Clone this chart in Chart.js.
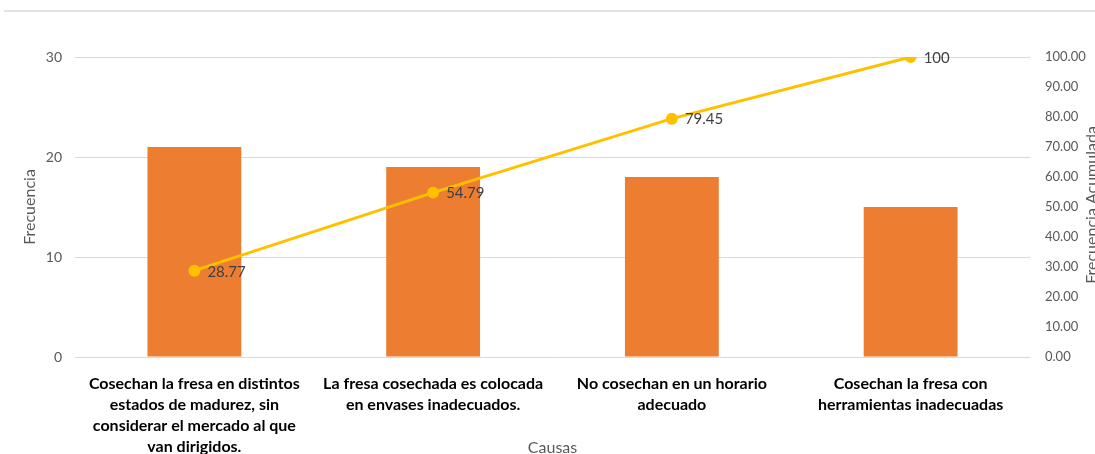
<!DOCTYPE html>
<html>
<head>
<meta charset="utf-8">
<script src="https://cdn.jsdelivr.net/npm/chart.js@4"></script>
<style>
html,body{margin:0;padding:0;background:#fff;}
#wrap{position:relative;width:1095px;height:454px;}
</style>
</head>
<body>
<div id="wrap"><canvas id="c" width="1095" height="454"></canvas></div>
<script>
const categories = [
  ["Cosechan la fresa en distintos","estados de madurez, sin","considerar el mercado al que","van dirigidos."],
  ["La fresa cosechada es colocada","en envases inadecuados."],
  ["No cosechan en un horario","adecuado"],
  ["Cosechan la fresa con","herramientas inadecuadas"]
];
const frecuencia = [21, 19, 18, 15];
const acumulada = [28.77, 54.79, 79.45, 100];
const acumLabels = ["28.77", "54.79", "79.45", "100"];
const leftTicks = [0, 10, 20, 30];
const xTitle = "Causas";
const yTitle = "Frecuencia";
const y2Title = "Frecuencia Acumulada";

const FONT = "Lato, 'Liberation Sans', sans-serif";

const extras = {
  id: 'extras',
  beforeDraw(chart) {
    const ctx = chart.ctx;
    ctx.save();
    ctx.fillStyle = '#fff';
    ctx.fillRect(0, 0, chart.width, chart.height);
    ctx.strokeStyle = '#d9d9d9';
    ctx.lineWidth = 1.5;
    ctx.beginPath();
    ctx.moveTo(4, 11);
    ctx.lineTo(1095, 11);
    ctx.stroke();
    ctx.restore();
  },
  afterDraw(chart) {
    const ctx = chart.ctx;
    ctx.save();
    const meta = chart.getDatasetMeta(0);
    ctx.font = "15px " + FONT;
    ctx.fillStyle = '#404040';
    ctx.textAlign = 'left';
    ctx.textBaseline = 'middle';
    meta.data.forEach((pt, i) => {
      ctx.fillText(acumLabels[i], pt.x + 13, pt.y + 1);
    });
    ctx.font = "16px " + FONT;
    ctx.fillStyle = '#595959';
    ctx.textAlign = 'center';
    ctx.fillText(xTitle, (chart.chartArea.left + chart.chartArea.right) / 2, 448);
    ctx.translate(1092, 205);
    ctx.rotate(-Math.PI / 2);
    ctx.fillText(y2Title, 0, 0);
    ctx.restore();
  }
};

new Chart(document.getElementById('c'), {
  data: {
    labels: categories,
    datasets: [
      {
        type: 'line',
        data: acumulada,
        yAxisID: 'y2',
        borderColor: '#FFC000',
        backgroundColor: '#FFC000',
        pointBackgroundColor: '#FFC000',
        pointBorderColor: '#FFC000',
        pointRadius: 4.5,
        borderWidth: 3,
        order: 0
      },
      {
        type: 'bar',
        data: frecuencia,
        yAxisID: 'y',
        backgroundColor: '#ED7D31',
        categoryPercentage: 1,
        barPercentage: 0.393,
        order: 1
      }
    ]
  },
  options: {
    responsive: false,
    animation: false,
    layout: { padding: { top: 57, bottom: 0, left: 0, right: 0 } },
    plugins: { legend: { display: false }, tooltip: { enabled: false } },
    scales: {
      x: {
        grid: { display: false },
        border: { display: false },
        ticks: {
          color: '#000',
          font: { family: FONT, size: 16, weight: 'bold', lineHeight: 1.3125 },
          maxRotation: 0, minRotation: 0, autoSkip: false, padding: 8
        },
        afterFit(s) { s.height = 97; }
      },
      y: {
        position: 'left',
        min: 0, max: 30,
        afterBuildTicks(s) { s.ticks = leftTicks.map(v => ({ value: v })); },
        grid: { color: '#d9d9d9', drawTicks: false, lineWidth: 1 },
        border: { display: false },
        ticks: { color: '#595959', font: { family: FONT, size: 14 }, padding: 13 },
        title: { display: true, text: yTitle, color: '#595959', font: { family: FONT, size: 16 }, padding: { top: 20, bottom: 0 } },
        afterFit(s) { s.width = 75; }
      },
      y2: {
        position: 'right',
        min: 0, max: 100,
        grid: { display: false, drawTicks: false },
        border: { display: false },
        ticks: { stepSize: 10, color: '#595959', font: { family: FONT, size: 13 }, padding: 15,
          callback: v => Number(v).toFixed(2) },
        afterFit(s) { s.width = 65; }
      }
    }
  },
  plugins: [extras]
});
</script>
</body>
</html>
